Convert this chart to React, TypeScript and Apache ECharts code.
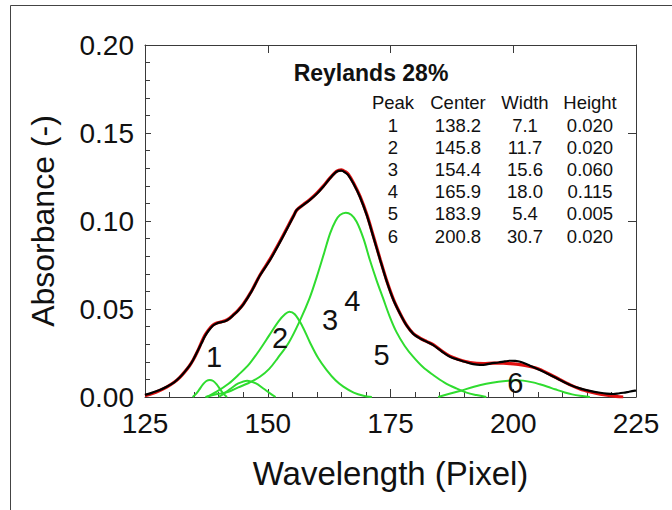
import React, { useEffect, useRef } from "react";
import * as echarts from "echarts";

// Measured absorbance spectrum (black)
const measured: number[][] = [
  [125, 0.0012], [126.5, 0.0025], [128, 0.004], [129.5, 0.006], [131, 0.0085], [132.1, 0.0112],
  [133, 0.014], [134, 0.0175], [134.8, 0.021], [135.7, 0.026], [136.5, 0.0305], [137.2, 0.0345],
  [137.9, 0.0375], [138.8, 0.0405], [139.6, 0.0418], [140.5, 0.0425], [141.3, 0.043], [142.2, 0.0445],
  [143, 0.0465], [144, 0.0492], [145, 0.0525], [146.7, 0.06], [148.4, 0.069], [150.5, 0.078],
  [152.5, 0.088], [154.2, 0.097], [155.3, 0.103], [155.9, 0.1063], [157.2, 0.109], [158.6, 0.112],
  [160, 0.1155], [161.3, 0.1195], [162.6, 0.124], [164, 0.128], [165, 0.1286], [165.8, 0.1275],
  [166.4, 0.1261], [167.5, 0.121], [168.8, 0.1135], [170.2, 0.103], [171.5, 0.091], [172.9, 0.0778],
  [174.2, 0.066], [175.6, 0.0551], [177, 0.047], [178.3, 0.0405], [179.6, 0.036], [181, 0.0333],
  [182.3, 0.0315], [183.7, 0.0295], [185.4, 0.026], [187.1, 0.0229], [189, 0.021], [191.2, 0.0191],
  [192.6, 0.0184], [193.9, 0.0182], [195.3, 0.019], [197, 0.0196], [198.3, 0.0202], [199.3, 0.0206],
  [200.4, 0.0205], [201.4, 0.02], [203.4, 0.0178], [205.4, 0.0153], [207.5, 0.0125], [209.5, 0.0097],
  [211.5, 0.007], [213.6, 0.0049], [215.6, 0.0035], [217.7, 0.0024], [219, 0.0019], [220.4, 0.0017],
  [221.4, 0.002], [222.4, 0.0024], [223.6, 0.003], [224.8, 0.0036], [225, 0.0037],
];

// Fitted sum (red)
const fitted: number[][] = [
  [125, 0.0008], [126.5, 0.002], [128, 0.0037], [129.5, 0.0058], [131, 0.0085], [132.1, 0.0112],
  [133, 0.014], [134, 0.0175], [134.8, 0.021], [135.7, 0.026], [136.5, 0.031], [137.2, 0.035],
  [137.9, 0.038], [138.8, 0.0408], [139.6, 0.042], [140.5, 0.0427], [141.3, 0.0433], [142.2, 0.0447],
  [143, 0.0467], [144, 0.0494], [145, 0.0527], [146.7, 0.0602], [148.4, 0.0692], [150.5, 0.0785],
  [152.5, 0.0885], [154.2, 0.0975], [155.3, 0.1032], [155.9, 0.1062], [157.2, 0.1092], [158.6, 0.1122],
  [160, 0.1158], [161.3, 0.1198], [162.6, 0.1242], [164, 0.1282], [165, 0.129], [165.8, 0.128],
  [166.4, 0.1266], [167.5, 0.1215], [168.8, 0.114], [170.2, 0.1035], [171.5, 0.0915], [172.9, 0.0782],
  [174.2, 0.0663], [175.6, 0.0555], [177, 0.0472], [178.3, 0.0407], [179.6, 0.0362], [181, 0.0335],
  [182.3, 0.0316], [183.7, 0.0297], [185.4, 0.0263], [187.1, 0.0232], [189, 0.0212], [191.2, 0.0196],
  [193.9, 0.019], [196, 0.0192], [198, 0.0192], [199.3, 0.019], [201.4, 0.0184], [203.4, 0.0173],
  [205.4, 0.0157], [207.5, 0.0128], [209.5, 0.0099], [211.6, 0.0069], [213.6, 0.0046], [215.7, 0.0029],
  [217.7, 0.0016], [219.8, 0.0007], [221.2, 0.0002], [222.4, 0],
];

// Component peaks (green)
const peak1: number[][] = [
  [134.7, 0], [135.3, 0.0015], [136.0, 0.004], [136.8, 0.0072], [137.5, 0.0091], [138.2, 0.0097],
  [138.9, 0.0091], [139.6, 0.0072], [140.4, 0.004], [141.1, 0.0015], [141.7, 0],
];
const peak2: number[][] = [
  [140.0, 0], [141.2, 0.0022], [142.5, 0.0048], [144.0, 0.0077], [145.8, 0.0093], [147.6, 0.0077],
  [149.1, 0.0048], [150.4, 0.0022], [151.6, 0],
];
const peak3: number[][] = [
  [137.6, 0], [139.6, 0.003], [142, 0.0075], [144, 0.0125], [146.3, 0.019], [148.4, 0.027],
  [150.3, 0.035], [152.2, 0.043], [153.5, 0.047], [154.4, 0.0485], [155.5, 0.047], [157, 0.0405],
  [158.6, 0.031], [160.3, 0.022], [162, 0.0153], [163.8, 0.0095], [165.4, 0.0059], [167.5, 0.0025],
  [169.5, 0.0007], [171.2, 0],
];
const peak4: number[][] = [
  [137.3, 0], [140, 0.0018], [142, 0.003], [144, 0.0055], [146, 0.0078], [148.4, 0.0115],
  [150.3, 0.016], [152, 0.022], [154.3, 0.031], [156.6, 0.0437], [158.5, 0.056], [160, 0.0684],
  [161.5, 0.082], [162.7, 0.093], [163.8, 0.1], [164.7, 0.1034], [165.9, 0.1047], [167, 0.1035],
  [168.1, 0.0996], [169.5, 0.09], [170.8, 0.0778], [172.2, 0.066], [173.5, 0.056], [174.8, 0.046],
  [176.2, 0.037], [177.9, 0.029], [179.6, 0.0229], [181.6, 0.017], [183.7, 0.0125], [186, 0.0082],
  [188.4, 0.0049], [190.5, 0.0025], [192.5, 0.0011], [194.5, 0],
];
const peak6: number[][] = [
  [184.7, 0], [187, 0.0018], [189.3, 0.0036], [192, 0.0058], [194.5, 0.0075], [197, 0.0087],
  [199, 0.0093], [200.5, 0.0095], [202, 0.0093], [204, 0.0083], [205.4, 0.0072], [207, 0.0058],
  [208.5, 0.0044], [210.5, 0.0026], [212, 0.0015], [213.6, 0.0007], [215.6, 0],
];

// Peak number annotations (data coordinates)
const peakLabels: (number | string)[][] = [
  [139.05, 0.0227, "1"], [152.5, 0.0335, "2"], [162.7, 0.0438, "3"],
  [167.2, 0.0547, "4"], [173.2, 0.0239, "5"], [200.4, 0.0078, "6"],
];

// Fit table
const tableTitle = "Reylands 28%";
const tableHeader = ["Peak", "Center", "Width", "Height"];
const peakIds = ["1", "2", "3", "4", "5", "6"];
const peakCenters = ["138.2", "145.8", "154.4", "165.9", "183.9", "200.8"];
const peakWidths = ["7.1", "11.7", "15.6", "18.0", "5.4", "30.7"];
const peakHeights = ["0.020", "0.020", "0.060", "0.115", "0.005", "0.020"];

const xTicks = { min: 125, max: 225, interval: 25 };
const yTicks = { min: 0, max: 0.2, interval: 0.05 };

const FONT = "'Liberation Sans', Arial, Helvetica, sans-serif";
const AXIS = "#3a3a3a";
const GREEN = "#2fdc2f";

export default function App() {
  const ref = useRef<HTMLDivElement>(null);
  useEffect(() => {
    if (!ref.current) return;
    const chart = echarts.init(ref.current, undefined, { renderer: "svg" });

    const colX = [393, 458, 525, 590];
    const rowY0 = 125;
    const rowDy = 22.2;
    const tableTexts: any[] = [];
    tableHeader.forEach((h, i) => {
      tableTexts.push({
        type: "text", x: colX[i], y: 102.5, silent: true,
        style: { text: h, font: `18.5px ${FONT}`, fill: "#111", align: "center", verticalAlign: "middle" },
      });
    });
    const cols = [peakIds, peakCenters, peakWidths, peakHeights];
    cols.forEach((col, ci) => {
      col.forEach((v, ri) => {
        tableTexts.push({
          type: "text", x: colX[ci], y: rowY0 + ri * rowDy, silent: true,
          style: { text: v, font: `18.5px ${FONT}`, fill: "#111", align: "center", verticalAlign: "middle" },
        });
      });
    });

    const greenSeries = [peak1, peak2, peak3, peak4, peak6].map((d) => ({
      type: "line", data: d, smooth: 0.35, showSymbol: false, silent: true,
      lineStyle: { color: GREEN, width: 2 }, z: 2,
    }));

    chart.setOption({
      animation: false,
      backgroundColor: "#ffffff",
      grid: { left: 145, top: 45, width: 491, height: 352, containLabel: false },
      xAxis: [
        {
          type: "value", position: "bottom", ...xTicks,
          axisLine: { show: true, onZero: false, lineStyle: { color: AXIS, width: 1 } },
          axisTick: { show: true, inside: true, length: 8, lineStyle: { color: AXIS } },
          minorTick: { show: true, splitNumber: 5, length: 5, lineStyle: { color: AXIS } },
          splitLine: { show: false },
          axisLabel: { fontSize: 28, color: "#111", margin: 12, fontFamily: FONT },
          name: "Wavelength (Pixel)", nameLocation: "middle", nameGap: 60,
          nameTextStyle: { fontSize: 33, color: "#111", fontFamily: FONT },
        },
        {
          type: "value", position: "top", ...xTicks,
          axisLine: { show: true, onZero: false, lineStyle: { color: AXIS, width: 1 } },
          axisTick: { show: true, inside: true, length: 8, lineStyle: { color: AXIS } },
          axisLabel: { show: false }, splitLine: { show: false },
        },
      ],
      yAxis: [
        {
          type: "value", position: "left", ...yTicks,
          axisLine: { show: true, onZero: false, lineStyle: { color: AXIS, width: 1 } },
          axisTick: { show: true, inside: true, length: 6, lineStyle: { color: AXIS } },
          minorTick: { show: true, splitNumber: 5, length: 5, lineStyle: { color: AXIS } },
          splitLine: { show: false },
          axisLabel: {
            fontSize: 28, color: "#111", margin: 11, fontFamily: FONT,
            formatter: (v: number) => v.toFixed(2),
          },
          name: "Absorbance (-)", nameLocation: "middle", nameGap: 86, nameRotate: 90,
          nameTextStyle: { fontSize: 32, color: "#111", fontFamily: FONT },
        },
        {
          type: "value", position: "right", ...yTicks,
          axisLine: { show: true, onZero: false, lineStyle: { color: AXIS, width: 1 } },
          axisTick: { show: true, inside: true, length: 8, lineStyle: { color: AXIS } },
          axisLabel: { show: false }, splitLine: { show: false },
        },
      ],
      series: [
        ...greenSeries,
        {
          type: "line", data: fitted, smooth: 0.3, showSymbol: false, silent: true,
          lineStyle: { color: "#e01010", width: 3.2 }, z: 3,
        },
        {
          type: "line", data: measured, smooth: 0.3, showSymbol: false, silent: true,
          lineStyle: { color: "#000000", width: 2.2 }, z: 4,
        },
        {
          type: "scatter", data: peakLabels, symbolSize: 0, silent: true, z: 5,
          itemStyle: { color: "#000", opacity: 1 },
          label: {
            show: true, position: "inside", fontSize: 29, color: "#111", fontFamily: FONT,
            opacity: 1, textBorderWidth: 0,
            formatter: (p: any) => p.value[2],
          },
        },
      ],
      graphic: [
        {
          type: "rect", silent: true,
          shape: { x: 10.5, y: 5.5, width: 700, height: 600 },
          style: { fill: "none", stroke: "#444", lineWidth: 1 },
        },
        {
          type: "text", x: 371, y: 73, silent: true,
          style: { text: tableTitle, font: `bold 23px ${FONT}`, fill: "#111", align: "center", verticalAlign: "middle" },
        },
        ...tableTexts,
      ],
    });
    return () => chart.dispose();
  }, []);
  return (
    <div
      ref={ref}
      style={{ position: "absolute", left: 0, top: 0, width: 672, height: 510 }}
    />
  );
}
